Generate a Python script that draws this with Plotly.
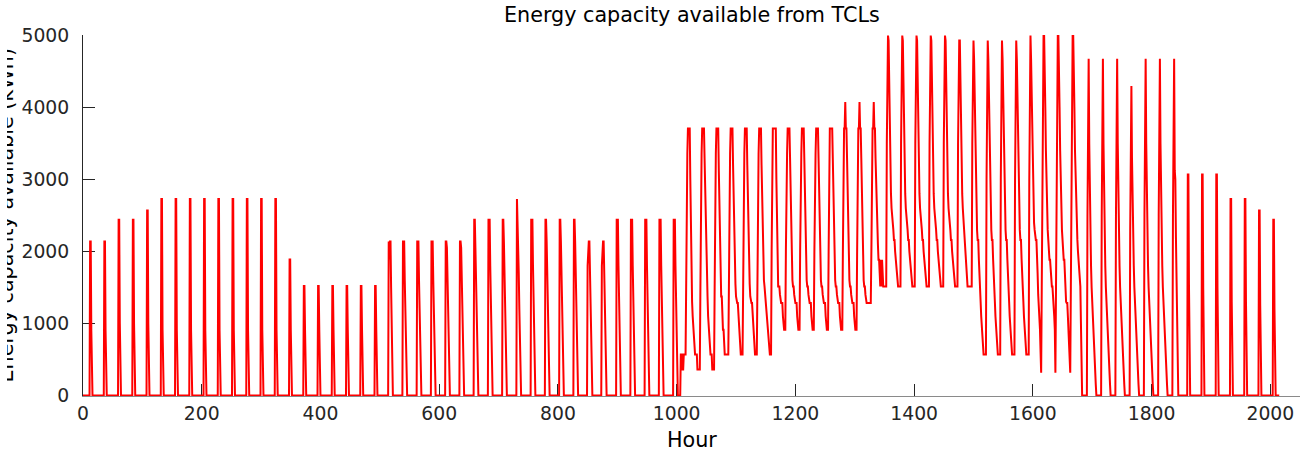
import numpy as np
import plotly.graph_objects as go

# Hourly energy capacity (kWh) available from the TCL fleet.
# Each week holds 7 days, each day holds 24 hourly values (hour 0..23).

week1 = [
    [0] * 12 + [2140, 2140, 900] + [0] * 9,
    [0] * 12 + [2140, 2140, 900] + [0] * 9,
    [0] * 12 + [2440, 2440, 1000] + [0] * 9,
    [0] * 12 + [2440, 2440, 1000] + [0] * 9,
    [0] * 12 + [2570, 2570, 1000] + [0] * 9,
    [0] * 12 + [2730, 2730, 914] + [0] * 9,
    [0] * 12 + [2730, 2730, 914] + [0] * 9,
]
week2 = [
    [0] * 12 + [2730, 2730, 914] + [0] * 9,
    [0] * 12 + [2730, 2730, 914] + [0] * 9,
    [0] * 12 + [2730, 2730, 914] + [0] * 9,
    [0] * 12 + [2730, 2730, 914] + [0] * 9,
    [0] * 12 + [2730, 2730, 914] + [0] * 9,
    [0] * 12 + [2730, 2730, 914] + [0] * 9,
    [0] * 12 + [2730, 2730, 914] + [0] * 9,
]
week3 = [
    [0] * 12 + [1890, 1890, 914] + [0] * 9,
    [0] * 12 + [1520, 1520, 914] + [0] * 9,
    [0] * 12 + [1520, 1520, 914] + [0] * 9,
    [0] * 12 + [1520, 1520, 914] + [0] * 9,
    [0] * 12 + [1520, 1520, 914] + [0] * 9,
    [0] * 12 + [1520, 1520, 914] + [0] * 9,
    [0] * 12 + [1520, 1520, 914] + [0] * 9,
]
week4 = [
    [0] * 11 + [2140, 1890, 2140, 2140, 1500, 900, 400] + [0] * 6,
    [0] * 11 + [2140, 2140, 2140, 1600, 1100, 600, 200] + [0] * 6,
    [0] * 11 + [2140, 2140, 2140, 1600, 1100, 600, 200] + [0] * 6,
    [0] * 11 + [2140, 2140, 2140, 1600, 1100, 600, 200] + [0] * 6,
    [0] * 11 + [2140, 2140, 2050, 1600, 1100, 600, 200] + [0] * 6,
    [0] * 11 + [2140, 2140, 2050, 1600, 1100, 600, 200] + [0] * 6,
    [0] * 11 + [2440, 2440, 2050, 1600, 1100, 600, 200] + [0] * 6,
]
week5 = [
    [0] * 11 + [2440, 2440, 2440, 1800, 1200, 650, 200] + [0] * 6,
    [0] * 11 + [2440, 2440, 2140, 1600, 1100, 600, 200] + [0] * 6,
    [0] * 11 + [2730, 2440, 2140, 1700, 1200, 650, 200] + [0] * 6,
    [0] * 11 + [2440, 2440, 2440, 1800, 1200, 650, 200] + [0] * 6,
    [0] * 11 + [2440, 2440, 2140, 1600, 1100, 600, 200] + [0] * 6,
    [0] * 11 + [2440, 2440, 2140, 1600, 1100, 600, 200] + [0] * 6,
    [0] * 11 + [2440, 2440, 2140, 1600, 1100, 600, 200] + [0] * 6,
]
week6 = [
    [0] * 10 + [1800, 2140, 2140, 2140, 1600, 1100, 600, 200] + [0] * 6,
    [0] * 10 + [1800, 2140, 2140, 2140, 1600, 1100, 600, 200] + [0] * 6,
    [0] * 11 + [2440, 2440, 2440, 1800, 1200, 650, 200] + [0] * 6,
    [0] * 11 + [2440, 2440, 2440, 1800, 1200, 650, 200] + [0] * 6,
    [0] * 11 + [2440, 2440, 2440, 1800, 1200, 650, 200] + [0] * 6,
    [0] * 11 + [2440, 2440, 2440, 1800, 1200, 650, 200] + [0] * 6,
    [0] * 11 + [2440, 2440, 2440, 1800, 1200, 650, 200] + [0] * 5 + [568],
]
week7 = [
    [568, 568, 360, 360, 568, 568, 568, 568, 1500, 3360, 3360, 3710,
     3710, 3710, 3710, 3000, 2300, 1700, 1300, 1100, 914, 914, 568, 568],
    [568, 568, 568, 360, 360, 360, 360, 360, 1500, 3360, 3360, 3710,
     3710, 3710, 3710, 3300, 2800, 2300, 1900, 1600, 1375, 1100, 914, 914],
    [568, 568, 568, 568, 360, 360, 360, 360, 1500, 3360, 3360, 3710,
     3710, 3710, 3710, 3130, 2500, 2000, 1600, 1375, 1375, 1100, 914, 914],
    [700, 568, 568, 568, 568, 568, 568, 568, 1500, 3360, 3360, 3710,
     3710, 3710, 3710, 3200, 2700, 2200, 1800, 1550, 1375, 1283, 1283, 1283],
    [1100, 914, 914, 700, 568, 568, 568, 568, 1500, 3360, 3360, 3710,
     3710, 3710, 3710, 3200, 2700, 2200, 1800, 1550, 1375, 1283, 1283, 1283],
    [1100, 914, 914, 700, 568, 568, 568, 568, 1500, 3360, 3360, 3710,
     3710, 3710, 3710, 3200, 2700, 2200, 1800, 1600, 1514, 1400, 1283, 1283],
    [1100, 914, 914, 700, 568, 568, 568, 568, 2000, 3710, 3710, 3710,
     3710, 3710, 3710, 3710, 3000, 2300, 1800, 1514, 1514, 1514, 1400, 1283],
]
week8 = [
    [1283, 1283, 1283, 1100, 914, 914, 914, 914, 2000, 3360, 3360, 3710,
     3710, 3710, 3710, 3300, 2800, 2300, 1900, 1600, 1514, 1514, 1400, 1283],
    [1283, 1283, 1283, 1100, 914, 914, 914, 914, 2000, 3360, 3360, 3710,
     3710, 3710, 3710, 3300, 2800, 2300, 1900, 1600, 1514, 1514, 1400, 1283],
    [1283, 1283, 1283, 1100, 914, 914, 914, 914, 2000, 3360, 3360, 3710,
     3710, 3710, 3710, 3300, 2800, 2300, 1900, 1600, 1514, 1514, 1400, 1283],
    [1283, 1283, 1283, 1100, 914, 914, 914, 914, 2000, 3710, 3710, 3710,
     3710, 3710, 3710, 3300, 2800, 2300, 1900, 1600, 1514, 1514, 1400, 1283],
    [1283, 1283, 1283, 1100, 914, 914, 914, 914, 2000, 3360, 3710, 3710,
     4077, 3710, 3710, 3300, 2800, 2300, 1900, 1600, 1514, 1514, 1400, 1283],
    [1283, 1283, 1283, 1100, 914, 914, 914, 914, 2000, 3360, 3710, 3710,
     4077, 3710, 3710, 3300, 2800, 2300, 1900, 1600, 1514, 1514, 1400, 1283],
    [1283, 1283, 1283, 1283, 1283, 1283, 1283, 1283, 2000, 3360, 3710, 3710,
     4077, 3710, 3710, 3300, 2900, 2600, 2300, 2100, 1884, 1884, 1700, 1514],
]
week9 = [
    [1884, 1514, 1884, 1514, 1514, 1514, 1514, 1514, 1514, 1514, 3500, 5000,
     5000, 4931, 4200, 3600, 3100, 2800, 2600, 2438, 2438, 2300, 2161, 2161],
    [2000, 1884, 1884, 1700, 1514, 1514, 1514, 1514, 1514, 1514, 3500, 5000,
     5000, 4931, 4200, 3600, 3100, 2800, 2600, 2438, 2438, 2300, 2161, 2161],
    [2000, 1884, 1884, 1700, 1514, 1514, 1514, 1514, 1514, 1514, 3500, 5000,
     5000, 4931, 4200, 3600, 3100, 2800, 2600, 2438, 2438, 2300, 2161, 2161],
    [2000, 1884, 1884, 1700, 1514, 1514, 1514, 1514, 1514, 1514, 3500, 5000,
     5000, 4931, 4200, 3600, 3100, 2800, 2600, 2438, 2438, 2300, 2161, 2161],
    [2000, 1884, 1884, 1700, 1514, 1514, 1514, 1514, 1514, 1514, 3500, 5000,
     5000, 4931, 4200, 3600, 3100, 2800, 2600, 2438, 2438, 2300, 2161, 2161],
    [2000, 1884, 1884, 1700, 1514, 1514, 1514, 1514, 1514, 1514, 3500, 4931,
     4931, 4931, 4200, 3600, 3100, 2800, 2600, 2438, 2300, 2161, 2000, 1884],
    [1700, 1514, 1514, 1514, 1514, 1514, 1514, 1514, 1514, 1514, 3500, 4931,
     4931, 4677, 4100, 3500, 3000, 2600, 2300, 2161, 2161, 1900, 1600, 1306],
]
week10 = [
    [1306, 1100, 914, 750, 568, 568, 568, 568, 568, 568, 3000, 4931,
     4931, 4677, 4100, 3500, 3000, 2600, 2300, 2161, 2161, 1900, 1600, 1306],
    [1306, 1100, 914, 750, 568, 568, 568, 568, 568, 568, 3000, 4931,
     4931, 4677, 4100, 3500, 3000, 2600, 2300, 2161, 2161, 1900, 1600, 1306],
    [1306, 1100, 914, 750, 568, 568, 568, 568, 568, 568, 3000, 4931,
     4931, 4677, 4100, 3500, 3000, 2600, 2300, 2161, 2161, 1900, 1600, 1306],
    [1306, 1100, 914, 750, 568, 568, 568, 568, 568, 568, 3000, 5000,
     5000, 4677, 4100, 3500, 3000, 2600, 2400, 2300, 2161, 2161, 2161, 2000],
    [1700, 1400, 1283, 1100, 914, 600, 314, 1500, 3500, 5000, 5000, 5000,
     4677, 4000, 3400, 2900, 2500, 2300, 2161, 2000, 1884, 1884, 1700, 1514],
    [1514, 1514, 1400, 1283, 1100, 914, 314, 1500, 3500, 5000, 5000, 5000,
     4677, 4000, 3400, 2900, 2500, 2300, 2161, 2000, 1884, 1884, 1600, 1400],
    [1300, 1283, 1283, 1100, 914, 700, 500, 314, 1500, 3500, 5000, 5000,
     5000, 4677, 4000, 3400, 3000, 2700, 2400, 2161, 2000, 1884, 1700, 1514],
]
week11 = [
    [1514, 1000, 400] + [0] * 9 + [2500, 4677, 4677, 3500, 2700, 2161,
                                   1800, 1500, 1283, 1000, 914, 583],
    [400, 314, 150] + [0] * 9 + [2500, 4677, 4677, 3500, 2700, 2161,
                                 1800, 1500, 1283, 1000, 914, 583],
    [400, 314, 150] + [0] * 9 + [2500, 4677, 4677, 3500, 2700, 2161,
                                 1800, 1500, 1283, 1000, 914, 583],
    [400, 314, 150] + [0] * 9 + [2300, 4300, 4300, 3300, 2600, 2100,
                                 1800, 1500, 1283, 1000, 914, 583],
    [400, 314, 150] + [0] * 9 + [2500, 4677, 4677, 3500, 2700, 2161,
                                 1800, 1500, 1283, 1000, 914, 583],
    [400, 314, 150] + [0] * 9 + [2500, 4677, 4677, 3500, 2700, 2161,
                                 1800, 1500, 1283, 1000, 914, 583],
    [400, 314, 150] + [0] * 9 + [2500, 4677, 4677, 3130, 3000, 2200,
                                 1500, 900, 400, 0, 0, 0],
]
week12 = [
    [0] * 13 + [3070, 3070, 1500, 450] + [0] * 7,
    [0] * 13 + [3070, 3070, 1500, 450] + [0] * 7,
    [0] * 13 + [3070, 3070, 1500, 450] + [0] * 7,
    [0] * 13 + [2730, 2730, 1300, 400] + [0] * 7,
    [0] * 13 + [2730, 2730, 1300, 400] + [0] * 7,
    [0] * 13 + [2570, 2570, 1250, 400] + [0] * 7,
    [0] * 13 + [2440, 2440, 1200, 350] + [0] * 7,
]

weeks = [week1, week2, week3, week4, week5, week6,
         week7, week8, week9, week10, week11, week12]
for w in weeks:
    assert len(w) == 7 and all(len(d) == 24 for d in w)

capacity = np.array([v for w in weeks for day in w for v in day], dtype=float)
hours = np.arange(capacity.size)

x_ticks = list(range(0, 2001, 200))
y_ticks = list(range(0, 5001, 1000))

TITLE = "Energy capacity available from TCLs"
X_LABEL = "Hour"
Y_LABEL = "Energy capacity available (kWh)"

FONT = "DejaVu Sans"
AX = "#262626"

fig = go.Figure(
    go.Scatter(
        x=hours,
        y=capacity,
        mode="lines",
        line=dict(color="#ff0000", width=2),
        hoverinfo="skip",
    )
)

fig.update_layout(
    width=1304,
    height=455,
    margin=dict(l=83, r=4, t=35, b=59, pad=0),
    paper_bgcolor="white",
    plot_bgcolor="white",
    showlegend=False,
    font=dict(family=FONT, size=18.8, color=AX),
)

fig.update_xaxes(
    range=[0, 2050],
    tickmode="array",
    tickvals=x_ticks,
    ticktext=[str(t) for t in x_ticks],
    ticks="inside",
    ticklen=12,
    tickwidth=1,
    tickcolor=AX,
    showline=True,
    linecolor="#8a8a8a",
    linewidth=1,
    showgrid=False,
    zeroline=False,
    layer="below traces",
)
fig.update_yaxes(
    range=[-8, 5008],
    tickmode="array",
    tickvals=y_ticks,
    ticktext=[str(t) for t in y_ticks],
    ticks="inside",
    ticklen=12,
    tickwidth=1,
    tickcolor=AX,
    ticklabelstandoff=9,
    showline=True,
    linecolor=AX,
    linewidth=1,
    showgrid=False,
    zeroline=False,
    layer="below traces",
)

fig.add_annotation(
    text=TITLE, xref="paper", yref="paper", x=0.5, y=1,
    xanchor="center", yanchor="bottom", yshift=6, showarrow=False,
    font=dict(family=FONT, size=20.7, color="#000000"),
)
fig.add_annotation(
    text=X_LABEL, xref="paper", yref="paper", x=0.5, y=0,
    xanchor="center", yanchor="top", yshift=-30, showarrow=False,
    font=dict(family=FONT, size=20.7, color="#000000"),
)
fig.add_annotation(
    text=Y_LABEL, xref="paper", yref="paper", x=0, y=0.5,
    xanchor="center", yanchor="middle", xshift=-78, textangle=-90,
    showarrow=False, font=dict(family=FONT, size=20.7, color="#000000"),
)
# white strip along the far left edge, where the y label is cut off
fig.add_annotation(
    text=" ", xref="paper", yref="paper", x=0, y=0.5,
    xanchor="right", yanchor="middle", xshift=-76, width=12, height=440,
    bgcolor="white", borderwidth=0, borderpad=0, showarrow=False,
)

fig.write_html("out.html")
